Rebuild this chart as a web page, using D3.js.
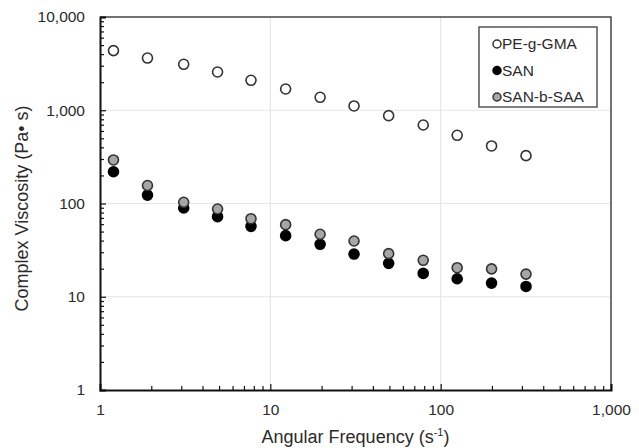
<!DOCTYPE html>
<html lang="en">
<head>
<meta charset="UTF-8">
<title>Complex Viscosity</title>
<style>
  body { margin: 0; background: #fff; }
  text { font-family: "Liberation Sans", Arial, sans-serif; fill: #2b2b2b; }
</style>
</head>
<body>
<div id="chart"></div>
<script src="https://cdn.jsdelivr.net/npm/d3@7"></script>
<script>
// angular frequency (s-1)
const freq = [1.2, 1.9, 3.1, 4.9, 7.7, 12.3, 19.6, 31, 49.5, 79, 125, 199, 317];
// complex viscosity (Pa s)
const peGMA = [4360, 3630, 3110, 2570, 2095, 1690, 1377, 1112, 875, 695, 539, 414, 326];
const san = [219, 123, 89.5, 72.2, 56.9, 45.2, 36.5, 28.7, 22.8, 17.8, 15.6, 14.0, 12.9];
const sanSAA = [293, 156, 103, 87.3, 68.7, 59.3, 46.8, 39.6, 29.0, 24.6, 20.5, 19.9, 17.5];

const seriesNames = ["PE-g-GMA", "SAN", "SAN-b-SAA"];
const xTickValues = [1, 10, 100, 1000];
const yTickValues = [1, 10, 100, 1000, 10000];

const width = 639, height = 448;
const margin = {top: 17, right: 28, bottom: 58, left: 100};

const svg = d3.select("#chart")
    .append("svg")
    .attr("width", width)
    .attr("height", height);

const x = d3.scaleLog()
    .domain([1, 1000])
    .range([margin.left, width - margin.right]);

const y = d3.scaleLog()
    .domain([1, 10000])
    .range([height - margin.bottom, margin.top]);

const styles = {
    "PE-g-GMA": {fill: "#fff", stroke: "#333"},
    "SAN": {fill: "#000", stroke: "#000"},
    "SAN-b-SAA": {fill: "#a6a6a6", stroke: "#333"}
};

// gridlines
svg.append("g")
    .selectAll("line")
    .data(xTickValues.slice(1, -1))
    .join("line")
    .attr("x1", d => x(d)).attr("x2", d => x(d))
    .attr("y1", y(10000)).attr("y2", y(1))
    .attr("stroke", "#e6e6e6").attr("stroke-width", 1.2);

svg.append("g")
    .selectAll("line")
    .data(yTickValues.slice(1, -1))
    .join("line")
    .attr("x1", x(1)).attr("x2", x(1000))
    .attr("y1", d => y(d)).attr("y2", d => y(d))
    .attr("stroke", "#e6e6e6").attr("stroke-width", 1.2);

// top / right frame
svg.append("path")
    .attr("d", `M${x(1)},${y(10000)}H${x(1000)}V${y(1)}`)
    .attr("fill", "none")
    .attr("stroke", "#444")
    .attr("stroke-width", 1.5);

// minor ticks
const minorX = x.ticks().filter(d => !xTickValues.includes(d));
const minorY = y.ticks().filter(d => !yTickValues.includes(d));

svg.append("g")
    .attr("transform", `translate(0,${y(1)})`)
    .call(d3.axisBottom(x).tickValues(minorX).tickSize(-4).tickFormat(""))
    .call(g => g.select(".domain").remove());

svg.append("g")
    .attr("transform", `translate(${x(1)},0)`)
    .call(d3.axisLeft(y).tickValues(minorY).tickSize(-4).tickFormat(""))
    .call(g => g.select(".domain").remove());

// major axes
const xAxis = svg.append("g")
    .attr("transform", `translate(0,${y(1)})`)
    .call(d3.axisBottom(x).tickValues(xTickValues).tickSize(-6).tickPadding(14)
        .tickFormat(d3.format(",")));

const yAxis = svg.append("g")
    .attr("transform", `translate(${x(1)},0)`)
    .call(d3.axisLeft(y).tickValues(yTickValues).tickSize(-6).tickPadding(15)
        .tickFormat(d3.format(",")));

[xAxis, yAxis].forEach(a => {
    a.select(".domain").attr("stroke", "#111").attr("stroke-width", 2);
    a.selectAll(".tick text").style("font-size", "15.5px").attr("fill", "#2b2b2b");
});
svg.selectAll(".tick line").attr("stroke", "#111").attr("stroke-width", 1.2);

// axis titles
const xTitle = svg.append("text")
    .attr("x", (x(1) + x(1000)) / 2)
    .attr("y", 443)
    .attr("text-anchor", "middle")
    .style("font-size", "18px")
    .text("Angular Frequency (s");
xTitle.append("tspan")
    .attr("dy", -7)
    .style("font-size", "11px")
    .text("-1");
xTitle.append("tspan")
    .attr("dy", 7)
    .text(")");

svg.append("text")
    .attr("transform", `translate(28,${(y(1) + y(10000)) / 2 + 5}) rotate(-90)`)
    .attr("text-anchor", "middle")
    .style("font-size", "18px")
    .text("Complex Viscosity (Pa\u2022 s)");

// data points
const series = [
    {name: "PE-g-GMA", values: peGMA},
    {name: "SAN", values: san},
    {name: "SAN-b-SAA", values: sanSAA}
];

series.forEach(s => {
    svg.append("g")
        .selectAll("circle")
        .data(freq.map((f, i) => [f, s.values[i]]))
        .join("circle")
        .attr("cx", d => x(d[0]))
        .attr("cy", d => y(d[1]))
        .attr("r", 5)
        .attr("fill", styles[s.name].fill)
        .attr("stroke", styles[s.name].stroke)
        .attr("stroke-width", 1.6);
});

// legend
const legend = svg.append("g").attr("transform", "translate(479,27)");
legend.append("rect")
    .attr("width", 118).attr("height", 80)
    .attr("fill", "#fff")
    .attr("stroke", "#555")
    .attr("stroke-width", 1.5);

const item = legend.selectAll("g")
    .data(seriesNames)
    .join("g")
    .attr("transform", (d, i) => `translate(18,${17 + i * 26.5})`);

item.append("circle")
    .attr("r", 4)
    .attr("fill", d => styles[d].fill)
    .attr("stroke", d => styles[d].stroke)
    .attr("stroke-width", 1.5);

item.append("text")
    .attr("x", 5)
    .attr("dy", "0.35em")
    .style("font-size", "15.5px")
    .text(d => d);
</script>
</body>
</html>
